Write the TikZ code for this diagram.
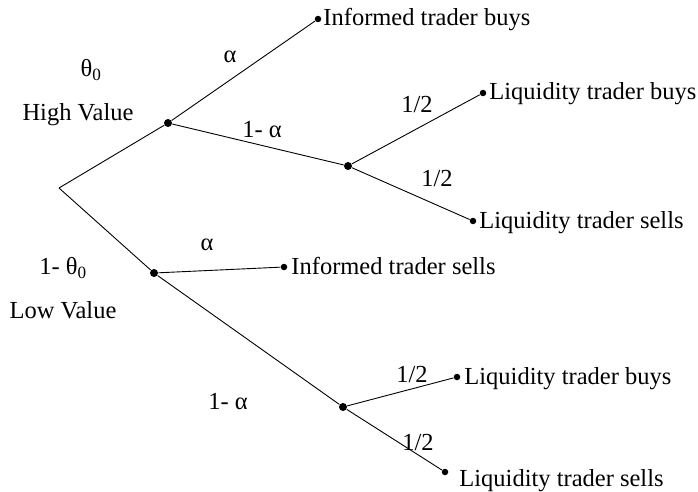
\documentclass[tikz,border=0pt]{standalone}
\usepackage{fontspec}
\setmainfont{Liberation Serif}
\begin{document}
\begin{tikzpicture}[x=1pt,y=-1pt,line width=0.9pt,
  dot/.style={circle,fill=black,inner sep=0pt,minimum size=8pt},
  leaf/.style={circle,fill=black,inner sep=0pt,minimum size=6.5pt},
  lbl/.style={font=\fontsize{24.5}{29}\selectfont,inner sep=0pt},
  txt/.style={lbl,anchor=base west}]
\useasboundingbox (0,0) rectangle (698,492);
% tree nodes
\coordinate (r) at (59,188);
\node[dot] (h) at (168,123) {};
\node[dot] (u) at (348,166) {};
\node[dot] (l) at (154,273) {};
\node[dot] (m) at (343,407) {};
\node[leaf] (ib) at (318,19) {};
\node[leaf] (lb1) at (483,93) {};
\node[leaf] (ls1) at (473,221) {};
\node[leaf] (is) at (284,267) {};
\node[leaf] (lb2) at (457,377) {};
\node[leaf] (ls2) at (445,472) {};
% connectors
\draw (r) -- (h);
\draw (h) -- (ib);
\draw (h) -- (u);
\draw (u) -- (lb1);
\draw (u) -- (ls1);
\draw (r) -- (l);
\draw (l) -- (is);
\draw (l) -- (m);
\draw (m) -- (lb2);
\draw (m) -- (ls2);
% outcome texts
\node[txt] (tib) at (323,26) {Informed trader buys};
\node[txt] (tlb1) at (489,100) {Liquidity trader buys};
\node[txt] (tls1) at (479,228) {Liquidity trader sells};
\node[txt] (tis) at (291,274) {Informed trader sells};
\node[txt] (tlb2) at (464,384) {Liquidity trader buys};
\node[txt] (tls2) at (459,486) {Liquidity trader sells};
% probability labels
\node[lbl] (t0) at (91,70) {θ\textsubscript{0}};
\node[lbl] (hv) at (78,115) {High Value};
\node[lbl] (a1) at (230,57) {α};
\node[lbl] (na1) at (262,130) {1- α};
\node[lbl] (p1) at (417,105) {1/2};
\node[lbl] (p2) at (437,179) {1/2};
\node[lbl] (a2) at (207,245) {α};
\node[lbl] (t1) at (63,268) {1- θ\textsubscript{0}};
\node[lbl] (lv) at (63,310) {Low Value};
\node[lbl] (na2) at (228,402) {1- α};
\node[lbl] (p3) at (412,375) {1/2};
\node[lbl] (p4) at (418,443) {1/2};
\end{tikzpicture}
\end{document}
